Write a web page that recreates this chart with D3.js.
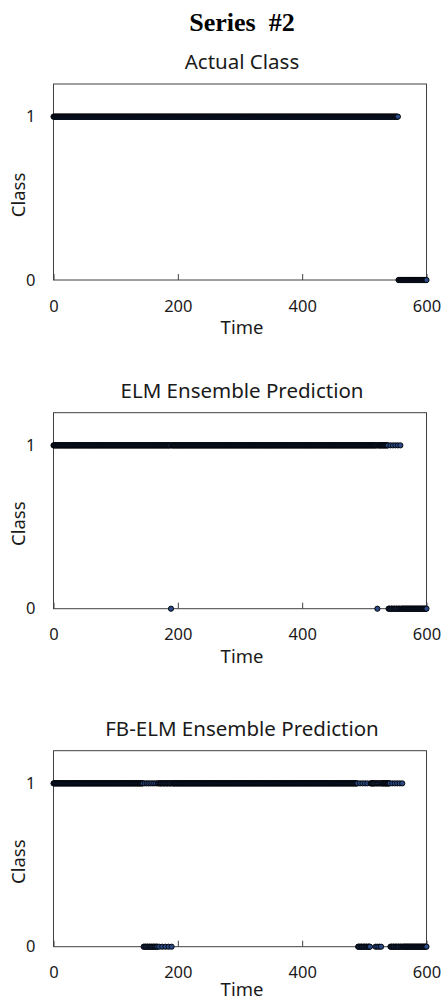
<!DOCTYPE html>
<html>
<head>
<meta charset="UTF-8">
<script src="https://d3js.org/d3.v7.min.js"></script>
<style>
  body { margin: 0; background: #fff; }
  text { font-family: "Noto Sans", sans-serif; fill: #1a1a1a; }
</style>
</head>
<body>
<div id="my_dataviz"></div>
<script>

// axis ticks
var timeTicks = [0, 200, 400, 600];
var classTicks = [0, 1];
var panelTitles = ["Actual Class", "ELM Ensemble Prediction", "FB-ELM Ensemble Prediction"];

// class runs: [from time, to time, class, every n-th step]
// later runs overwrite earlier ones
var actualRuns = [
  [0, 554, 1, 1],
  [555, 600, 0, 1]
];
var elmRuns = [
  [0, 537, 1, 1],
  [189, 189, 0, 1],
  [521, 521, 0, 1],
  [538, 600, 0, 1],
  [538, 559, 1, 4]
];
var fbelmRuns = [
  [0, 143, 1, 1],
  [144, 168, 0, 1],
  [144, 168, 1, 3],
  [169, 192, 1, 1],
  [170, 190, 0, 5],
  [193, 489, 1, 1],
  [490, 508, 0, 1],
  [493, 505, 1, 4],
  [509, 541, 1, 1],
  [509, 509, 0, 1],
  [518, 527, 0, 3],
  [542, 600, 0, 1],
  [545, 561, 1, 4]
];

var seriesRuns = [actualRuns, elmRuns, fbelmRuns];

// turn the runs into one point per time step
function expand(runs) {
  var cls = [];
  runs.forEach(function(r) {
    for (var t = r[0]; t <= r[1]; t += r[3]) cls[t] = r[2];
  });
  var pts = [];
  cls.forEach(function(c, t) { if (c !== undefined) pts.push({time: t, cls: c}); });
  return pts;
}

var margin = {left: 53.5, right: 17.5};
var width = 444 - margin.left - margin.right,
    height = 196;
var panelTops = [84, 412.7, 750.7];
var timeLabelY = [53.5, 54, 49];   // last one pulled up so it stays on the page

var svg = d3.select("#my_dataviz")
  .append("svg")
    .attr("width", 444)
    .attr("height", 1000);

// big title
svg.append("text")
    .attr("x", 242)
    .attr("y", 31)
    .attr("text-anchor", "middle")
    .style("font-family", "'Liberation Serif', 'Times New Roman', serif")
    .style("font-weight", "bold")
    .style("font-size", "26px")
    .style("white-space", "pre")
    .style("fill", "#000")
    .text("Series  #2");

var x = d3.scaleLinear().domain([0, 600]).range([0, width]);
var y = d3.scaleLinear().domain([0, 1.2]).range([height, 0]);

seriesRuns.forEach(function(runs, i) {
  var g = svg.append("g")
    .attr("transform", "translate(" + margin.left + "," + panelTops[i] + ")");

  // panel title
  g.append("text")
      .attr("x", width / 2 + 2)
      .attr("y", -15)
      .attr("text-anchor", "middle")
      .style("font-size", "20.5px")
      .text(panelTitles[i]);

  // frame
  g.append("rect")
      .attr("x", 0)
      .attr("y", 0)
      .attr("width", width)
      .attr("height", height)
      .style("fill", "none")
      .style("stroke", "#404040")
      .style("stroke-width", 1);

  // X axis, ticks pointing inside
  var xa = g.append("g")
      .attr("transform", "translate(0," + height + ")")
      .call(d3.axisBottom(x).tickValues(timeTicks).tickSizeInner(-6).tickSizeOuter(0).tickPadding(20));
  xa.select(".domain").remove();
  xa.selectAll("line").style("stroke", "#404040");
  xa.selectAll("text").style("font-size", "16.5px").style("font-family", "'Noto Sans', sans-serif").style("fill", "#1a1a1a");

  // Y axis
  var ya = g.append("g")
      .call(d3.axisLeft(y).tickValues(classTicks).tickSize(0).tickPadding(18).tickFormat(d3.format("d")));
  ya.select(".domain").remove();
  ya.selectAll("text").style("font-size", "16.5px").style("font-family", "'Noto Sans', sans-serif").style("fill", "#1a1a1a");

  // axis titles
  g.append("text")
      .attr("x", width / 2 + 2)
      .attr("y", height + timeLabelY[i])
      .attr("text-anchor", "middle")
      .style("font-size", "18.5px")
      .text("Time");

  g.append("text")
      .attr("transform", "translate(" + (24.5 - margin.left) + "," + (height / 2 + 13) + ") rotate(-90)")
      .attr("text-anchor", "middle")
      .style("font-size", "18.5px")
      .text("Class");

  // the markers
  g.selectAll("circle")
    .data(expand(runs))
    .enter()
    .append("circle")
      .attr("cx", function(d) { return x(d.time); })
      .attr("cy", function(d) { return y(d.cls); })
      .attr("r", 2.6)
      .style("fill", "#2b4a85")
      .style("stroke", "#000")
      .style("stroke-width", 0.9);
});

</script>
</body>
</html>
